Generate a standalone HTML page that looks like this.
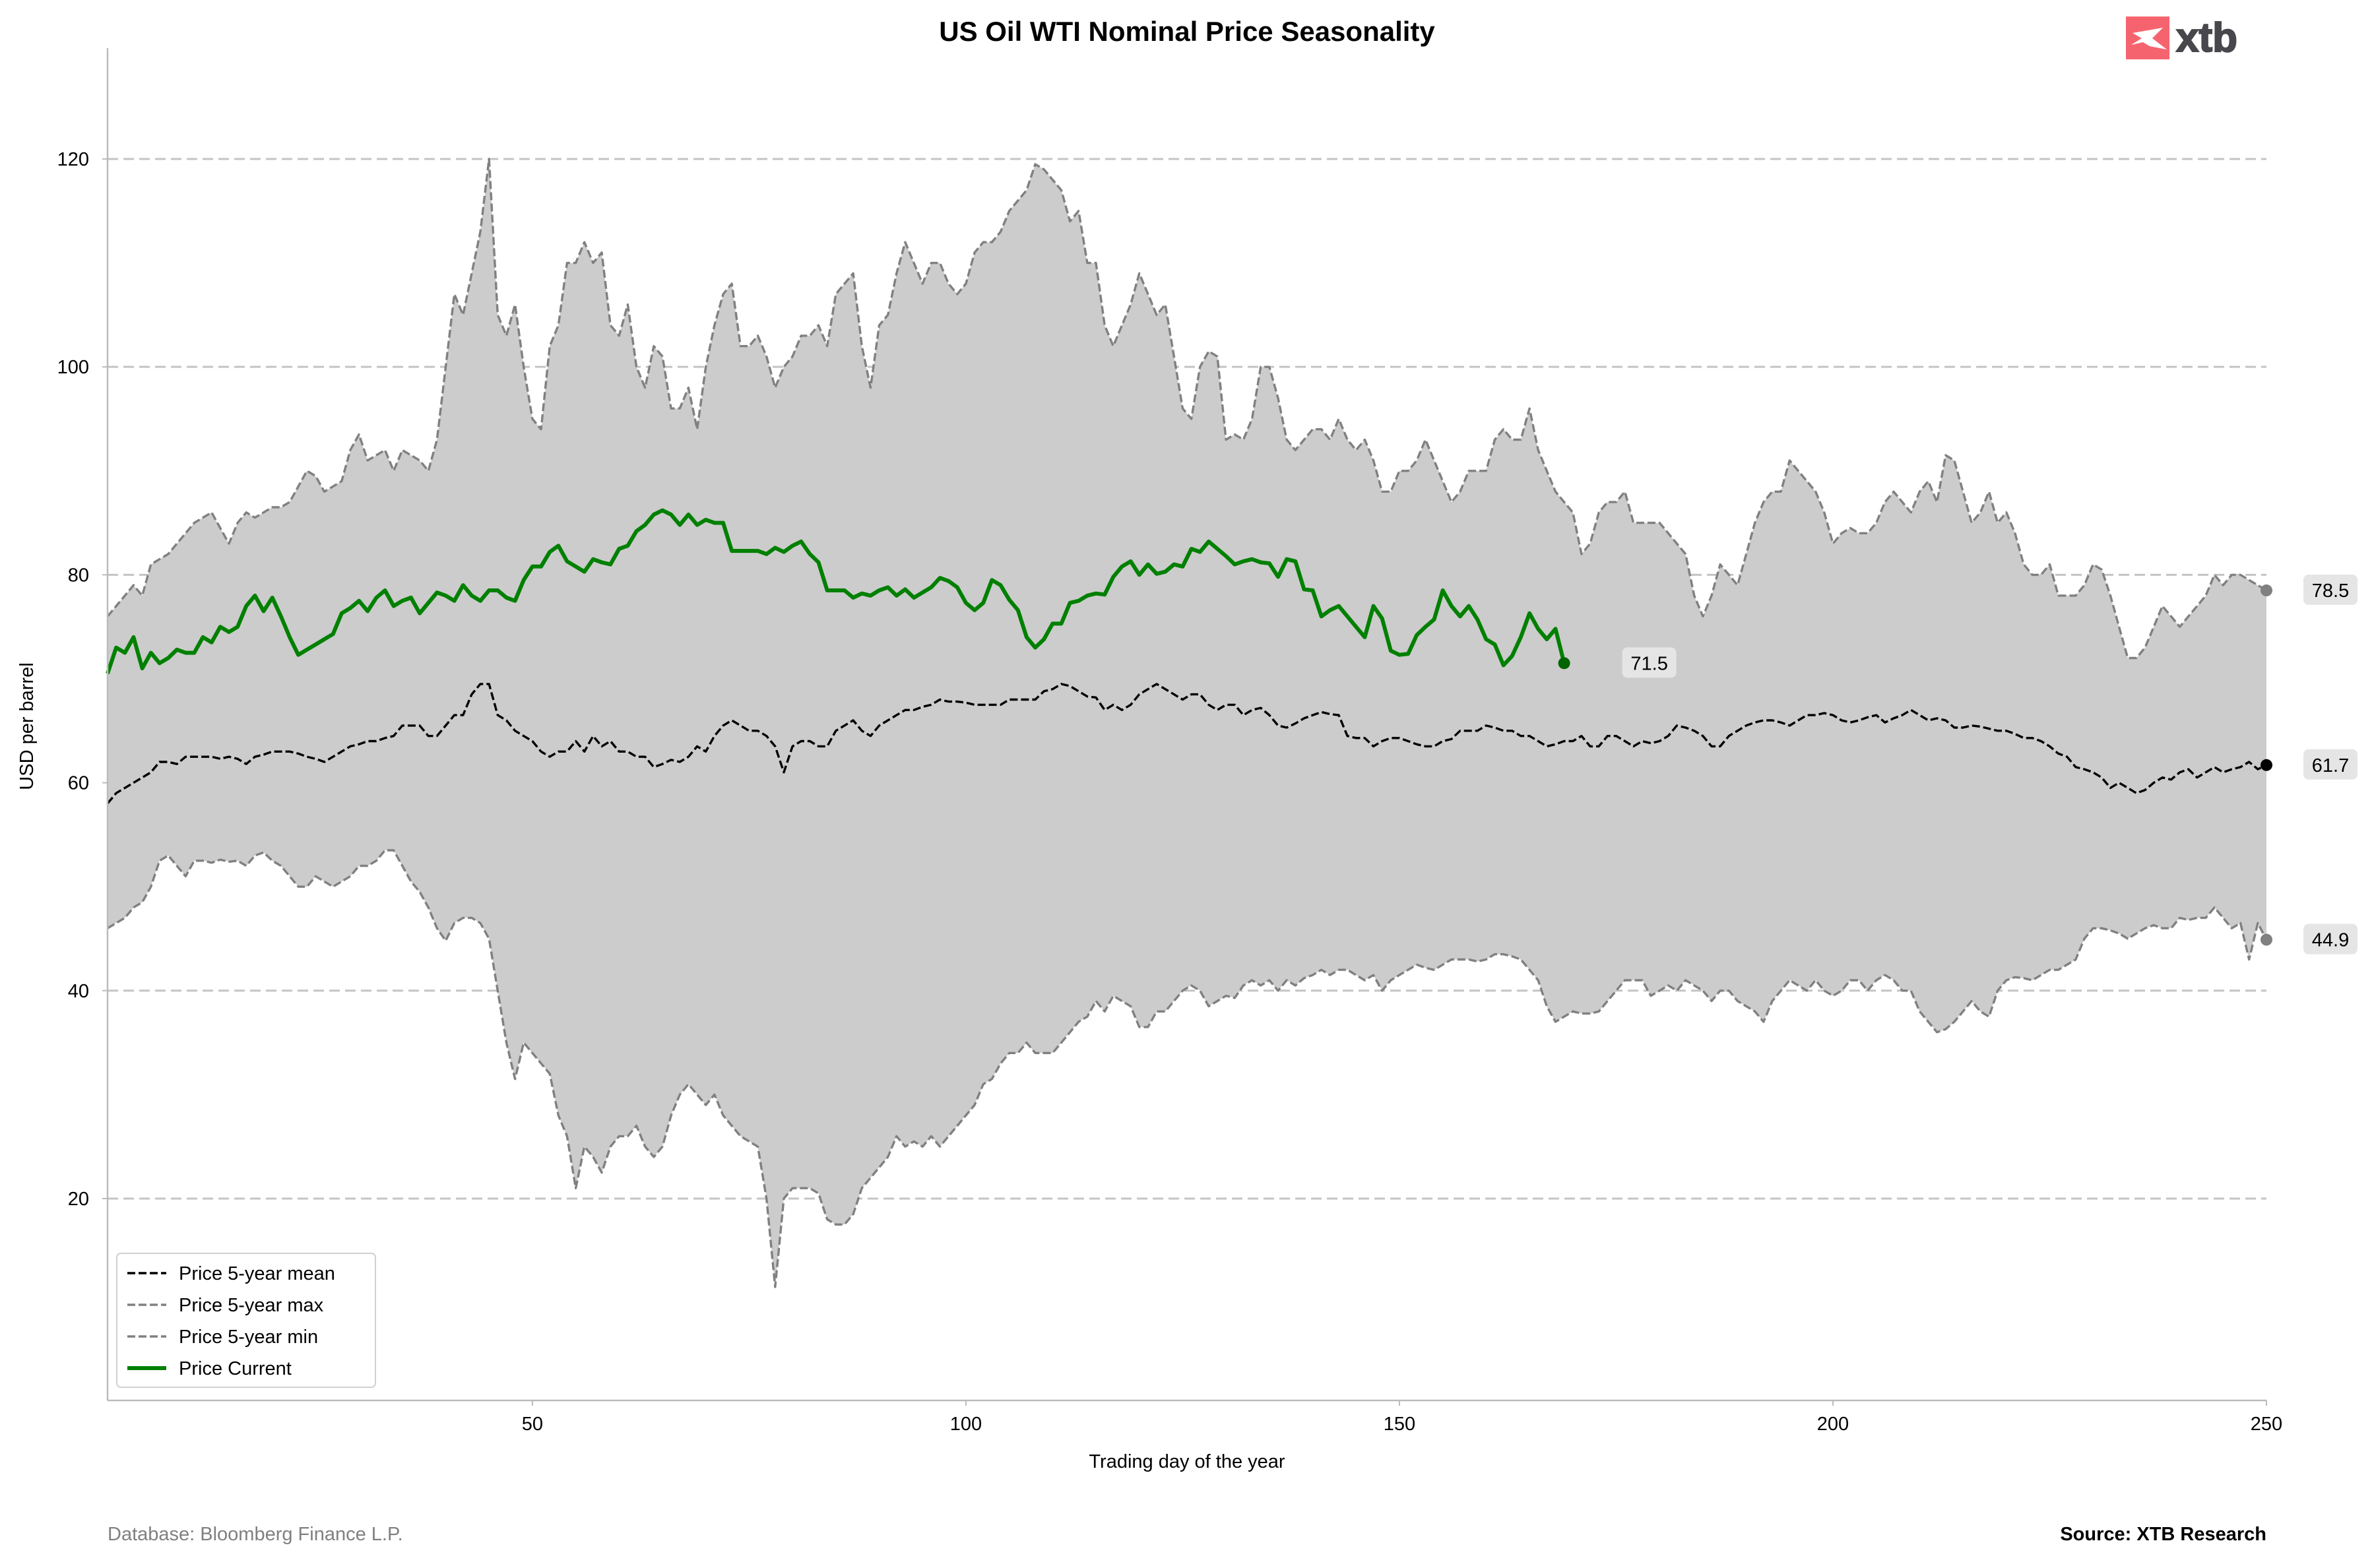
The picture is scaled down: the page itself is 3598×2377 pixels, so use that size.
<!DOCTYPE html>
<html><head><meta charset="utf-8"><title>US Oil WTI Nominal Price Seasonality</title>
<style>
html,body{margin:0;padding:0;background:#fff;}
body{width:3598px;height:2372px;overflow:hidden;font-family:"Liberation Sans",Arial,sans-serif;}
svg text{font-family:"Liberation Sans",Arial,sans-serif;}
</style></head>
<body>
<svg id="chart" width="3598" height="2372" viewBox="0 0 3598 2372" xmlns="http://www.w3.org/2000/svg">
  <rect x="0" y="0" width="3598" height="2372" fill="#fff"/>
  <text x="1799" y="62" text-anchor="middle" font-size="42" font-weight="bold" fill="#000">US Oil WTI Nominal Price Seasonality</text>
  <g>
    <rect x="3222" y="25" width="66" height="65" fill="#f5646e"/>
    <path d="M3232 50 L3278 42 L3262 58 L3284 75 L3258 70 L3248 64 L3230 68 L3246 58 Z" fill="#fff"/>
    <text x="3298" y="78" font-size="62" font-weight="bold" fill="#47474c" stroke="#47474c" stroke-width="2">xtb</text>
  </g>
  <g id="grid"></g>
  <g id="band"></g>
  <g id="series"></g>
  <g id="axes"></g>
  <g id="annot"></g>
  <g>
    <rect x="177" y="1900" width="392" height="203" rx="6" fill="#fff" fill-opacity="0.85" stroke="#d0d0d0" stroke-width="2"/>
    <line x1="193" y1="1930" x2="252" y2="1930" stroke="#000" stroke-width="3.4" stroke-dasharray="12,5"/>
    <text x="271" y="1940" font-size="29" fill="#000">Price 5-year mean</text>
    <line x1="193" y1="1978" x2="252" y2="1978" stroke="#808080" stroke-width="3.4" stroke-dasharray="12,5"/>
    <text x="271" y="1988" font-size="29" fill="#000">Price 5-year max</text>
    <line x1="193" y1="2026" x2="252" y2="2026" stroke="#808080" stroke-width="3.4" stroke-dasharray="12,5"/>
    <text x="271" y="2036" font-size="29" fill="#000">Price 5-year min</text>
    <line x1="193" y1="2074" x2="252" y2="2074" stroke="#008000" stroke-width="6"/>
    <text x="271" y="2084" font-size="29" fill="#000">Price Current</text>
  </g>
  <text x="1799" y="2225" text-anchor="middle" font-size="29" fill="#000">Trading day of the year</text>
  <text x="0" y="0" transform="translate(50,1101) rotate(-90)" text-anchor="middle" font-size="29" fill="#000">USD per barrel</text>
  <text x="163" y="2335" font-size="29" fill="#808080">Database: Bloomberg Finance L.P.</text>
  <text x="3435" y="2335" text-anchor="end" font-size="29" font-weight="bold" fill="#000">Source: XTB Research</text>
</svg>
<script>
const maxVals = [76,77,78,79,78,81,81.5,82,83,84,85,85.5,86,84.5,83,85,86,85.5,86,86.5,86.5,87,88.5,90,89.5,88,88.5,89,92,93.5,91,91.5,92,90,92,91.5,91,90,93,100,107,105,109,113,120,105,103,106,100,95,94,102,104,110,110,112,110,111,104,103,106,100,98,102,101,96,96,98,94,100,104,107,108,102,102,103,101,98,100,101,103,103,104,102,107,108,109,102,98,104,105,109,112,110,108,110,110,108,107,108,111,112,112,113,115,116,117,119.5,119,118,117,114,115,110,110,104,102,104,106,109,107,105,106,101,96,95,100,101.5,101,93,93.5,93,95,100,100,97,93,92,93,94,94,93,95,93,92,93,91,88,88,90,90,91,93,91,89,87,88,90,90,90,93,94,93,93,96,92,90,88,87,86,82,83,86,87,87,88,85,85,85,85,84,83,82,78,76,78,81,80,79,82,85,87,88,88,91,90,89,88,86,83,84,84.5,84,84,85,87,88,87,86,88,89,87,91.5,91,88,85,86,88,85,86,84,81,80,80,81,78,78,78,79,81,80.5,78,75,72,72,73,75,77,76,75,76,77,78,80,79,80,80,79.5,79,78.5];
const minVals = [46,46.5,47,48,48.5,50,52.5,53,52,51,52.5,52.5,52.3,52.6,52.4,52.5,52,53,53.3,52.5,52,51,50,50,51,50.5,50,50.5,51,52,52,52.5,53.5,53.5,52,50.5,49.5,48,46,44.8,46.5,47,47,46.5,45,40,35,31.5,35,34,33,32,28,26,21,25,24,22.5,25,26,26,27,25,24,25,28,30,31,30,29,30,28,27,26,25.5,25,20,11.5,20,21,21,21,20.5,18,17.5,17.5,18.5,21,22,23,24,26,25,25.5,25,26,25,26,27,28,29,31,31.5,33,34,34,35,34,34,34,35,36,37,37.5,39,38,39.5,39,38.5,36.5,36.5,38,38,39,40,40.5,40,38.5,39,39.5,39.3,40.5,41,40.5,41,40,41,40.5,41.2,41.5,42,41.5,42,42,41.5,41,41.5,40,41,41.5,42,42.5,42.2,42,42.5,43,43,43,42.8,43,43.5,43.5,43.3,43,42,41,38.5,37,37.5,38,37.8,37.8,38,39,40,41,41,41,39.5,40,40.5,40,41,40.5,40,39,40,40,39,38.5,38,37,39,40,41,40.5,40,41,40,39.5,40,41,41,40,41,41.5,41,40,40,38,37,36,36.3,37,38,39,38,37.5,40,41,41.3,41.2,41,41.5,42,42,42.5,43,45,46,46,45.8,45.5,45,45.5,46,46.3,46,46,47,46.8,47,47,48,47,46,46.5,43,46.5,44.9];
const meanVals = [58,59,59.5,60,60.5,61,62,62,61.8,62.5,62.5,62.5,62.5,62.3,62.5,62.3,61.8,62.5,62.7,63,63,63,62.8,62.5,62.3,62,62.5,63,63.5,63.7,64,64,64.3,64.5,65.5,65.5,65.5,64.5,64.5,65.5,66.5,66.5,68.5,69.5,69.5,66.5,66,65,64.5,64,63,62.5,63,63,64,63,64.5,63.5,64,63,63,62.5,62.5,61.5,61.8,62.2,62,62.5,63.5,63,64.5,65.5,66,65.5,65,65,64.5,63.5,61,63.5,64,64,63.5,63.5,65,65.5,66,65,64.5,65.5,66,66.5,67,67,67.3,67.5,68,67.8,67.8,67.7,67.5,67.5,67.5,67.5,68,68,68,68,68.8,69,69.5,69.3,68.8,68.3,68.2,67,67.5,67,67.5,68.5,69,69.5,69,68.5,68,68.5,68.5,67.5,67,67.5,67.5,66.5,67,67.2,66.5,65.5,65.3,65.7,66.2,66.5,66.8,66.6,66.5,64.5,64.3,64.3,63.5,64,64.3,64.3,64,63.7,63.5,63.5,64,64.2,65,65,65,65.5,65.3,65,65,64.5,64.5,64,63.5,63.7,64,64,64.5,63.5,63.5,64.5,64.5,64,63.5,64,63.8,64,64.5,65.5,65.3,65,64.5,63.5,63.5,64.5,65,65.5,65.8,66,66,65.8,65.5,66,66.5,66.5,66.7,66.5,66,65.8,66,66.3,66.5,65.8,66.2,66.5,67,66.5,66,66.2,66,65.3,65.3,65.5,65.4,65.2,65,65,64.7,64.3,64.3,64,63.5,62.8,62.5,61.5,61.3,61,60.5,59.5,60,59.5,59,59.3,60,60.5,60.3,61,61.3,60.5,61,61.5,61,61.3,61.5,62,61.3,61.7];
const currentVals = [70.5,73,72.5,74,71,72.5,71.5,72,72.8,72.5,72.5,74,73.5,75,74.5,75,77,78,76.5,77.8,76,74,72.3,72.8,73.3,73.8,74.3,76.3,76.8,77.5,76.5,77.8,78.5,77,77.5,77.8,76.3,77.3,78.3,78,77.5,79,78,77.5,78.5,78.5,77.8,77.5,79.5,80.8,80.8,82.2,82.8,81.3,80.8,80.3,81.5,81.2,81,82.5,82.8,84.2,84.8,85.8,86.2,85.8,84.8,85.8,84.8,85.3,85,85,82.3,82.3,82.3,82.3,82,82.6,82.2,82.8,83.2,82,81.2,78.5,78.5,78.5,77.8,78.2,78,78.5,78.8,78,78.6,77.8,78.3,78.8,79.7,79.4,78.8,77.3,76.6,77.3,79.5,79,77.6,76.6,74,73,73.8,75.3,75.3,77.3,77.5,78,78.2,78.1,79.8,80.8,81.3,80,81,80.1,80.3,81,80.8,82.5,82.2,83.2,82.5,81.8,81,81.3,81.5,81.2,81.1,79.8,81.5,81.3,78.6,78.5,76,76.6,77,76,75,74,77,75.8,72.7,72.3,72.4,74.2,75,75.7,78.5,77,76,77,75.7,73.8,73.3,71.3,72.2,74,76.3,74.8,73.8,74.8,71.5];
const yTicks = [20,40,60,80,100,120];
const xTicks = [50,100,150,200,250];

const NS = 'http://www.w3.org/2000/svg';
const PL = 163, PR = 3435, PT = 73, PB = 2123;
const XMIN = 1, XMAX = 250, YMIN = 0.58, YMAX = 130.66;
function xs(d){ return PL + (d - XMIN) / (XMAX - XMIN) * (PR - PL); }
function ys(v){ return PB - (v - YMIN) / (YMAX - YMIN) * (PB - PT); }
function mk(tag, attrs, parent){ const e = document.createElementNS(NS, tag); for (const k in attrs) e.setAttribute(k, attrs[k]); parent.appendChild(e); return e; }
function pts(arr){ return arr.map((v,i)=> xs(i+1).toFixed(1)+','+ys(v).toFixed(1)).join(' '); }

const grid = document.getElementById('grid');
yTicks.forEach(t => {
  const l = mk('line', {x1:PL, x2:PR, y1:ys(t), y2:ys(t), stroke:'#c4c4c4', 'stroke-width':3, 'stroke-dasharray':'16,8'}, grid);
  
  
});

const band = document.getElementById('band');
const upper = maxVals.map((v,i)=> xs(i+1).toFixed(1)+','+ys(v).toFixed(1));
const lower = minVals.map((v,i)=> xs(i+1).toFixed(1)+','+ys(v).toFixed(1)).reverse();
const poly = mk('polygon', {points: upper.concat(lower).join(' '), fill:'#cccccc'}, band);



const series = document.getElementById('series');
const maxLine = mk('polyline', {points: pts(maxVals), fill:'none', stroke:'#808080', 'stroke-width':3.4, 'stroke-dasharray':'12,5', 'stroke-linejoin':'round'}, series);


const minLine = mk('polyline', {points: pts(minVals), fill:'none', stroke:'#808080', 'stroke-width':3.4, 'stroke-dasharray':'12,5', 'stroke-linejoin':'round'}, series);


const meanLine = mk('polyline', {points: pts(meanVals), fill:'none', stroke:'#000', 'stroke-width':3.4, 'stroke-dasharray':'12,5', 'stroke-linejoin':'round'}, series);


const curLine = mk('polyline', {points: pts(currentVals), fill:'none', stroke:'#008000', 'stroke-width':6, 'stroke-linejoin':'round'}, series);



const axes = document.getElementById('axes');
const ls = mk('line', {x1:PL, x2:PL, y1:PT, y2:PB, stroke:'#bbbbbb', 'stroke-width':2.5}, axes);


const bs = mk('line', {x1:PL, x2:PR, y1:PB, y2:PB, stroke:'#bbbbbb', 'stroke-width':2.5}, axes);


yTicks.forEach(t => {
  const tk = mk('line', {x1:PL-8, x2:PL, y1:ys(t), y2:ys(t), stroke:'#bbbbbb', 'stroke-width':2}, axes);
  
  
  const tx = mk('text', {x:PL-28, y:ys(t)+10, 'text-anchor':'end', 'font-size':29, fill:'#000'}, axes);
  tx.textContent = t;
  
  
});
xTicks.forEach(t => {
  const tk = mk('line', {x1:xs(t), x2:xs(t), y1:PB, y2:PB+8, stroke:'#bbbbbb', 'stroke-width':2}, axes);
  
  
  const tx = mk('text', {x:xs(t), y:PB+45, 'text-anchor':'middle', 'font-size':29, fill:'#000'}, axes);
  tx.textContent = t;
  
  
});

const annot = document.getElementById('annot');
function endLabel(day, val, color, name, bx){
  const c = mk('circle', {cx:xs(day), cy:ys(val), r:9, fill:color}, annot);
  
  
  const r = mk('rect', {x:bx, y:ys(val)-24, width:82, height:46, rx:8, fill:'#e5e5e5'}, annot);
  
  
  const t = mk('text', {x:bx+41, y:ys(val)+10, 'text-anchor':'middle', 'font-size':29, fill:'#000'}, annot);
  t.textContent = val.toFixed(1);
  
  
}
endLabel(maxVals.length, maxVals[maxVals.length-1], '#808080', 'max', 3491);
endLabel(meanVals.length, meanVals[meanVals.length-1], '#000', 'mean', 3491);
endLabel(minVals.length, minVals[minVals.length-1], '#808080', 'min', 3491);
endLabel(currentVals.length, currentVals[currentVals.length-1], '#006400', 'current', xs(currentVals.length)+88);
</script>
</body></html>
